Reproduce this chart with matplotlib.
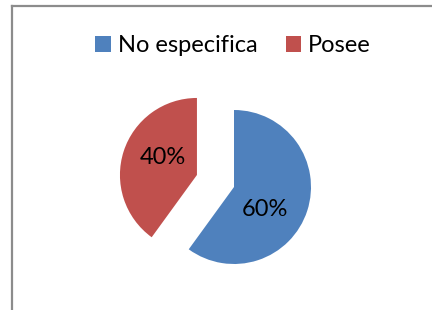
import matplotlib.pyplot as plt
from matplotlib.lines import Line2D

labels = ["No especifica", "Posee"]
values = [60, 40]
colors = ["#4F81BD", "#C0504D"]
explode = [0.0, 0.506]

plt.rcParams['font.family'] = ['Lato', 'DejaVu Sans']

W, H = 432, 310
fig = plt.figure(figsize=(W / 100, H / 100), dpi=100)

# gray chart frame (cut off at right and bottom)
fig.add_artist(Line2D([11.5 / W, 1.0], [1 - 5.5 / H, 1 - 5.5 / H], color="#8c8c8c", lw=1.6))
fig.add_artist(Line2D([11.5 / W, 11.5 / W], [0.0, 1 - 5.5 / H], color="#8c8c8c", lw=1.6))

# pie axes: centre at (234, 187) px, radius 77 px
r_px = 77
cx, cy = 234, 187
hw, hh = 140, 110
ax = fig.add_axes([(cx - hw) / W, (H - cy - hh) / H, 2 * hw / W, 2 * hh / H])
wedges, texts, autotexts = ax.pie(values, colors=colors, explode=explode, startangle=90,
                                  counterclock=False, autopct='%1.0f%%', pctdistance=0.5,
                                  textprops=dict(fontsize=17, color="black"),
                                  wedgeprops=dict(linewidth=0))
ax.set_xlim(-hw / r_px, hw / r_px)
ax.set_ylim(-hh / r_px, hh / r_px)
ax.set_aspect('equal')
ax.axis('off')

# label placement as in the reference
autotexts[0].set_position((31 / r_px, -22 / r_px))
autotexts[1].set_position((-71 / r_px, 29 / r_px))

fig.legend(wedges, labels, loc='center', bbox_to_anchor=(233 / W, 1 - 46 / H),
           ncol=2, frameon=False, fontsize=17, handlelength=0.65, handleheight=0.65,
           handletextpad=0.3, columnspacing=1.2)

fig.savefig("out.png", dpi=100)
